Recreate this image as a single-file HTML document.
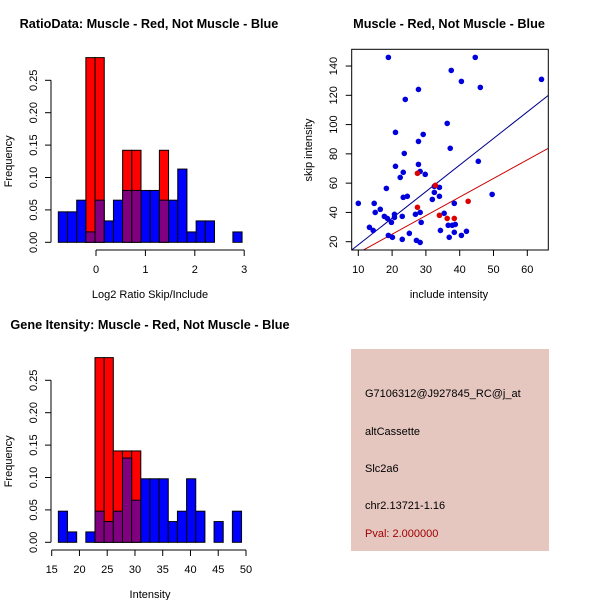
<!DOCTYPE html>
<html><head><meta charset="utf-8"><style>
body{margin:0;background:#fff;}
svg{display:block;font-family:"Liberation Sans",Arial,sans-serif;}
</style></head><body>
<svg id="root" width="600" height="600" viewBox="0 0 600 600">
<rect width="600" height="600" fill="#fff"/>
<text x="149" y="28" font-size="12.7" font-weight="bold" text-anchor="middle">RatioData: Muscle - Red, Not Muscle - Blue</text>
<text x="449" y="28" font-size="12.7" font-weight="bold" text-anchor="middle">Muscle - Red, Not Muscle - Blue</text>
<text x="150" y="329" font-size="12.7" font-weight="bold" text-anchor="middle">Gene Itensity: Muscle - Red, Not Muscle - Blue</text>
<g id="h1"></g>
<g id="h2"></g>
<g id="sc"></g>
<g>
<rect x="351" y="349" width="198" height="202" fill="#e5c7c0"/>
<text x="365" y="397" font-size="11">G7106312@J927845_RC@j_at</text>
<text x="365" y="435" font-size="11">altCassette</text>
<text x="365" y="472" font-size="11">Slc2a6</text>
<text x="365" y="509" font-size="11">chr2.13721-1.16</text>
<text x="365" y="537" font-size="11" fill="#a00000">Pval: 2.000000</text>
</g>
</svg>
<script>
// Ratio histogram data
const ratioBinStart = -0.763;
const ratioBinWidth = 0.186;
const ratioBlue = [0.047,0.047,0.065,0.016,0.065,0.033,0.065,0.080,0.080,0.080,0.080,0.065,0.065,0.113,0.016,0.033,0.033,0,0,0.016];
const ratioRed  = [0,0,0,0.285,0.285,0,0,0.142,0.142,0,0,0.142,0,0,0,0,0,0,0,0];
const ratioXTicks = [0,1,2,3];
const freqTicks = ["0.00","0.05","0.10","0.15","0.20","0.25"];
// Intensity histogram data
const intBinStart = 16.2;
const intBinWidth = 1.65;
const intBlue = [0.048,0.016,0,0.016,0.048,0.032,0.048,0.130,0.065,0.098,0.098,0.098,0.032,0.048,0.098,0.048,0,0.032,0,0.048];
const intRed  = [0,0,0,0,0.285,0.285,0.141,0.141,0.141,0,0,0,0,0,0,0,0,0,0,0];
const intXTicks = [15,20,25,30,35,40,45,50];
// Scatter data
const blueX = [18.9,44.6,37.5,40.5,64.2,46.1,27.8,23.9,36.3,21,29.2,27.8,37.2,23.6,45.5,27.8,21,28.3,23.3,29.8,22.4,18.3,32.5,34,32.5,24.5,23.3,34,31.9,49.6,38.4,10,14.7,15,16.5,28.3,35.4,26.9,20.7,17.7,23,18.6,20.7,28.6,19.8,13.3,14.4,34.3,36.6,37.8,38.7,38.4,42,40.5,18.9,20.1,25.1,36.9,23,27.2,28.3];
const blueY = [145.9,145.9,137,129.5,130.9,125.4,124,117.2,100.8,94.7,93.3,88.5,83.8,80.3,74.9,72.8,71.5,68,67.4,66,63.9,56.4,57.8,57.1,53.7,51,50.3,51,48.9,52.3,46.2,46.2,46.2,40,42.1,40,39.4,38.7,38.7,37.3,37.3,35.9,36.6,33.2,33.2,29.8,27.7,27.7,31.2,31.2,31.8,26.4,27.1,24.3,24.3,23,25.7,23,21.6,20.9,19.5];
const redX = [27.5,27.5,32.8,34,36.3,38.4,42.5];
const redY = [66.7,43.5,58.5,38,35.9,35.9,47.6];
const blueLine = [-0.28,1.816];
const redLine = [-0.3,1.27];
const scXTicks = [10,20,30,40,50,60];
const scYTicks = [20,40,60,80,100,120,140];

const NS="http://www.w3.org/2000/svg";
function mk(parent,tag,attrs){const e=document.createElementNS(NS,tag);for(const k in attrs)e.setAttribute(k,attrs[k]);parent.appendChild(e);return e;}

function hist(g,o){
  const xs=v=>o.x0px+(v-o.x0)*o.kx;
  const ys=v=>o.base-v*648;
  for(let i=0;i<o.red.length;i++){
    if(o.red[i]>0){
      const a=o.start+i*o.w;
      const r=mk(g,'rect',{x:xs(a),y:ys(o.red[i]),width:o.w*o.kx,height:o.red[i]*648,fill:'#ff0000',stroke:'#000','stroke-width':1});
      
      
    }
  }
  for(let i=0;i<o.blue.length;i++){
    if(o.blue[i]>0){
      const a=o.start+i*o.w;
      const r=mk(g,'rect',{x:xs(a),y:ys(o.blue[i]),width:o.w*o.kx,height:o.blue[i]*648,fill:o.red[i]>0?'#800080':'#0000ff',stroke:'#000','stroke-width':1});
      
      
    }
  }
  const yl=mk(g,'line',{x1:51,x2:51,y1:ys(0),y2:ys(0.25),stroke:'#000'});
  
  
  freqTicks.forEach(t=>{
    const y=ys(parseFloat(t));
    mk(g,'line',{x1:45,x2:51,y1:y,y2:y,stroke:'#000'});
    const tx=mk(g,'text',{x:0,y:0,'font-size':11,'text-anchor':'middle',transform:`translate(37,${y}) rotate(-90)`});
    tx.textContent=t;
    
    
  });
  const yt=mk(g,'text',{x:0,y:0,'font-size':11,'text-anchor':'middle',transform:`translate(12,${o.base-81}) rotate(-90)`});
  yt.textContent='Frequency';
  
  
  const ay=o.axisY;
  const xl=mk(g,'line',{x1:xs(o.ticks[0]),x2:xs(o.ticks[o.ticks.length-1]),y1:ay,y2:ay,stroke:'#000'});
  
  
  o.ticks.forEach(t=>{
    const x=xs(t);
    mk(g,'line',{x1:x,x2:x,y1:ay,y2:ay+6,stroke:'#000'});
    const tx=mk(g,'text',{x:x,y:ay+23,'font-size':11,'text-anchor':'middle'});
    tx.textContent=t;
    
    
  });
  const xt=mk(g,'text',{x:150,y:ay+48,'font-size':11,'text-anchor':'middle'});
  xt.textContent=o.title;
  
  
}
hist(document.getElementById('h1'),{x0:0,x0px:96,kx:49.4,base:242.3,axisY:250,start:ratioBinStart,w:ratioBinWidth,blue:ratioBlue,red:ratioRed,ticks:ratioXTicks,title:'Log2 Ratio Skip/Include'});
hist(document.getElementById('h2'),{x0:15,x0px:51.7,kx:5.551,base:542.3,axisY:550,start:intBinStart,w:intBinWidth,blue:intBlue,red:intRed,ticks:intXTicks,title:'Intensity'});

(function(){
  const g=document.getElementById('sc');
  const L=351.7,R=548.3,T=49.3,B=250;
  const xs=v=>358.3+(v-10)*3.38;
  const ys=v=>241.7-(v-20)*1.464;
  const xinv=p=>(p-358.3)/3.38+10;
  const defs=mk(g,'defs',{});
  const cp=mk(defs,'clipPath',{id:'clip'});
  mk(cp,'rect',{x:L,y:T,width:R-L,height:B-T});
  [[blueLine,'#00008b','regression-line-not-muscle'],[redLine,'#cc0000','regression-line-muscle']].forEach(([c,col,n])=>{
    const x1=xinv(L),x2=xinv(R);
    const l=mk(g,'line',{x1:L,x2:R,y1:ys(c[0]+c[1]*x1),y2:ys(c[0]+c[1]*x2),stroke:col,'stroke-width':1,'clip-path':'url(#clip)'});
    
    
  });
  blueX.forEach((x,i)=>{
    const c=mk(g,'circle',{cx:xs(x),cy:ys(blueY[i]),r:2.8,fill:'#0000dd'});
    
    
  });
  redX.forEach((x,i)=>{
    const c=mk(g,'circle',{cx:xs(x),cy:ys(redY[i]),r:2.8,fill:'#dd0000'});
    
    
  });
  const box=mk(g,'rect',{x:L,y:T,width:R-L,height:B-T,fill:'none',stroke:'#000'});
  
  
  scXTicks.forEach(t=>{
    const x=xs(t);
    mk(g,'line',{x1:x,x2:x,y1:B,y2:B+6,stroke:'#000'});
    const tx=mk(g,'text',{x:x,y:B+23,'font-size':11,'text-anchor':'middle'});
    tx.textContent=t;
    
    
  });
  scYTicks.forEach(t=>{
    const y=ys(t);
    mk(g,'line',{x1:L-6,x2:L,y1:y,y2:y,stroke:'#000'});
    const tx=mk(g,'text',{x:0,y:0,'font-size':11,'text-anchor':'middle',transform:`translate(337,${y}) rotate(-90)`});
    tx.textContent=t;
    
    
  });
  const xt=mk(g,'text',{x:449,y:298,'font-size':11,'text-anchor':'middle'});
  xt.textContent='include intensity';
  
  
  const yt=mk(g,'text',{x:0,y:0,'font-size':11,'text-anchor':'middle',transform:'translate(312,150) rotate(-90)'});
  yt.textContent='skip intensity';
  
  
})();
</script>
</body></html>
